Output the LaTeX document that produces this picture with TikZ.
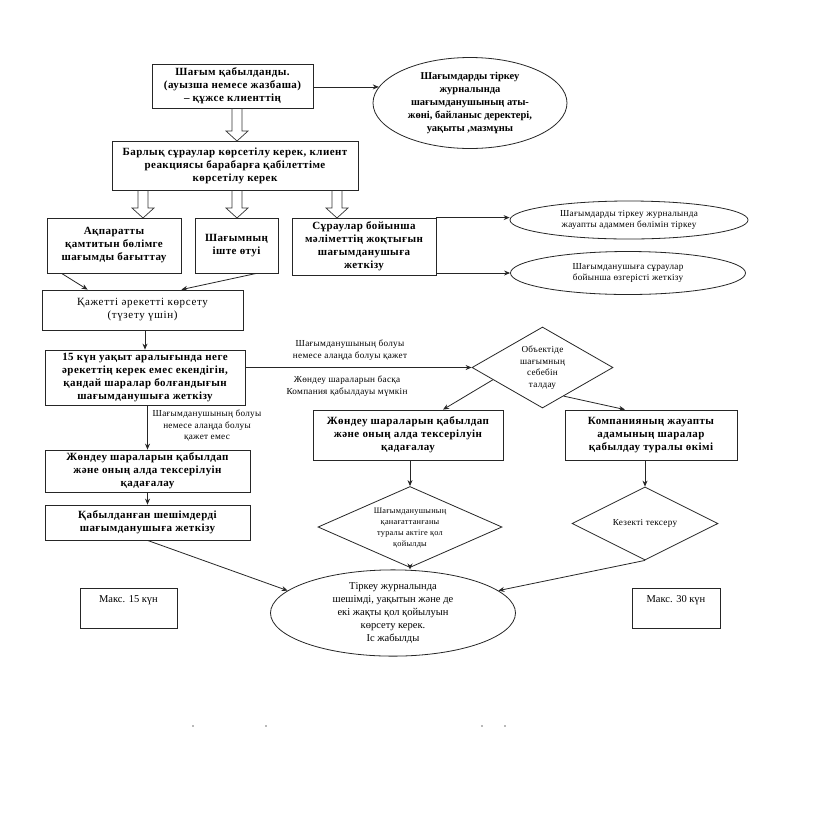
\documentclass[tikz,border=0pt]{standalone}
\usepackage{fontspec}
\setmainfont{Liberation Serif}
\newfontfamily\spacedfont[LetterSpace=4]{Liberation Serif}
\newfontfamily\widefont[LetterSpace=6]{Liberation Serif}
\newfontfamily\smallfont[LetterSpace=3]{Liberation Serif}
\usetikzlibrary{shapes.geometric,arrows.meta,calc}
\tikzset{
  box/.style={draw=black!85, line width=0.8pt, rectangle, inner sep=1pt, align=center},
  oval/.style={draw=black!85, line width=0.8pt, ellipse, inner sep=0pt, align=center},
  rhomb/.style={draw=black!85, line width=0.8pt, diamond, inner sep=0pt, align=center},
  txt/.style={inner sep=0pt, align=center},
  bigb/.style={font=\spacedfont\fontsize{11}{13}\selectfont\bfseries},
  ovalb/.style={font=\fontsize{10.5}{12.8}\selectfont\bfseries},
  bign/.style={font=\fontsize{10.5}{13}\selectfont},
  widen/.style={font=\widefont\fontsize{11}{13}\selectfont},
  smallt/.style={font=\smallfont\fontsize{9.2}{11.5}\selectfont},
  tinyt/.style={font=\smallfont\fontsize{8.3}{11}\selectfont},
  arr/.style={draw=black!85, line width=0.8pt, -{Stealth[length=6pt,width=5pt]}},
  hollow/.style={draw=black!80, line width=0.7pt}
}
\newcommand{\hollowdown}[2]{% top point, tip point
  \draw[hollow] ($(#1)+(-5,0)$) -- ($(#2)+(-5,-10)$) -- ($(#2)+(-11,-10)$) -- (#2) -- ($(#2)+(11,-10)$) -- ($(#2)+(5,-10)$) -- ($(#1)+(5,0)$);
}
\begin{document}
\begin{tikzpicture}[x=1pt,y=-1pt]
\useasboundingbox (0,0) rectangle (828,823);
\fill[white] (0,0) rectangle (828,823);

% top row
\node[box, minimum width=161pt, minimum height=44pt] (b1) at (232.5,86) {};
\node[txt, bigb] (b1t) at (232.5,86) {Шағым қабылданды.\\(ауызша немесе жазбаша)\\– құжсе клиенттің};
\node[oval, ovalb, minimum width=194pt, minimum height=91pt] (e1) at (470,103)
  {Шағымдарды тіркеу\\журналында\\шағымданушының аты-\\жөні, байланыс деректері,\\уақыты ,мазмұны};
\draw[arr] (b1.east |- e1.170) -- (e1.170);

\node[box, bigb, minimum width=246pt, minimum height=49pt] (b2) at (235,165.5)
  {Барлық сұраулар көрсетілу керек, клиент\\реакциясы барабарға қабілеттіме\\көрсетілу керек};

\coordinate (h1a) at (237,108);
\coordinate (h1b) at (237,141);
\hollowdown{h1a}{h1b}

\node[box, bigb, minimum width=134pt, minimum height=55pt] (b4) at (114,245.5)
  {Ақпаратты\\қамтитын бөлімге\\шағымды бағыттау};
\node[box, bigb, minimum width=83pt, minimum height=55pt] (b5) at (236.5,245.5)
  {Шағымның\\іште өтуі};
\node[box, bigb, minimum width=144pt, minimum height=57pt] (b6) at (364,246.5)
  {Сұраулар бойынша\\мәліметтің жоқтығын\\шағымданушыға\\жеткізу};

\coordinate (h2a) at (143,190); \coordinate (h2b) at (143,218);
\coordinate (h3a) at (237,190); \coordinate (h3b) at (237,218);
\coordinate (h4a) at (337,190); \coordinate (h4b) at (337,218);
\hollowdown{h2a}{h2b}
\hollowdown{h3a}{h3b}
\hollowdown{h4a}{h4b}

\node[oval, smallt, minimum width=238pt, minimum height=38pt] (e7) at (629,220)
  {Шағымдарды тіркеу журналында\\жауапты адаммен бөлімін тіркеу};
\node[oval, smallt, minimum width=235pt, minimum height=43pt] (e8) at (628,273)
  {Шағымданушыға сұраулар\\бойынша өзгерісті жеткізу};
\draw[arr] (b6.north east) -- (b6.north east -| e7.west);
\draw[arr] (b6.east |- e8.west) -- (e8.west);

% left column
\node[box, widen, minimum width=201pt, minimum height=40pt] (b9) at (142.5,310)
  {Қажетті әрекетті көрсету\\(түзету үшін)};
\draw[arr] ([xshift=15pt]b4.south west) -- ([xshift=46pt]b9.north west);
\draw[arr] ([xshift=-22pt]b5.south east) -- ([xshift=-62pt]b9.north east);

\node[box, bigb, minimum width=200pt, minimum height=55pt] (b10) at (145,377.5)
  {15 күн уақыт аралығында неге\\әрекеттің керек емес екендігін,\\қандай шаралар болғандығын\\шағымданушыға жеткізу};
\draw[arr] (b10.north |- b9.south) -- (b10.north);

% diamond analysis
\node[rhomb, minimum width=141pt, minimum height=81pt] (d11) at (542.5,367.5) {};
\node[txt, smallt] (d11t) at (d11.center) {Объектіде\\шағымның\\себебін\\талдау};
\draw[arr] (b10.east |- d11.west) -- (d11.west);
\node[txt, smallt] (l1) at (350,350) {Шағымданушының болуы\\немесе алаңда болуы қажет};
\node[txt, smallt] (l2) at (347,386) {Жөндеу шараларын басқа\\Компания қабылдауы мүмкін};

\node[box, bigb, minimum width=190pt, minimum height=50pt] (b12) at (408,435)
  {Жөндеу шараларын қабылдап\\және оның алда тексерілуін\\қадағалау};
\node[box, bigb, minimum width=172pt, minimum height=50pt] (b13) at (651,435)
  {Компанияның жауапты\\адамының шаралар\\қабылдау туралы өкімі};
\draw[arr] ($(d11.west)!0.3!(d11.south)$) -- ([xshift=35pt]b12.north);
\draw[arr] ($(d11.south)!0.3!(d11.east)$) -- ([xshift=-26pt]b13.north);

\node[box, bigb, minimum width=205pt, minimum height=42pt] (b14) at (147.5,471)
  {Жөндеу шараларын қабылдап\\және оның алда тексерілуін\\қадағалау};
\draw[arr] (b14.north |- b10.south) -- (b14.north);
\node[txt, smallt] (l3) at (207,426) {Шағымданушының болуы\\немесе алаңда болуы\\қажет емес};

\node[box, bigb, minimum width=205pt, minimum height=35pt] (b15) at (147.5,522.5)
  {Қабылданған шешімдерді\\шағымданушыға жеткізу};
\draw[arr] (b14.south) -- (b15.north);

\node[rhomb, minimum width=184pt, minimum height=81pt] (d16) at (410,527) {};
\node[txt, tinyt] (d16t) at ([yshift=-1pt]d16.center) {Шағымданушының\\қанағаттанғаны\\туралы актіге қол\\қойылды};
\draw[arr] (d16.north |- b12.south) -- (d16.north);

\node[rhomb, minimum width=146pt, minimum height=73pt] (d17) at (645,523.5) {};
\node[txt, smallt] (d17t) at (d17.center) {Кезекті тексеру};
\draw[arr] (d17.north |- b13.south) -- (d17.north);

\node[oval, bign, minimum width=245pt, minimum height=82pt] (e18) at (393,613)
  {Тіркеу журналында\\шешімді, уақытын және де\\екі жақты қол қойылуын\\көрсету керек.\\Іс жабылды};
\draw[arr] (d16.south) -- (d16.south |- e18.north);
\draw[arr] (d17.south) -- (e18.12);
\draw[arr] (b15.south) -- (e18.168);

\node[box, minimum width=97pt, minimum height=40pt] (b19) at (128.5,608) {};
\node[txt, bign] (b19t) at (128.5,600) {Макс. 15 күн};
\node[box, minimum width=88pt, minimum height=40pt] (b20) at (676,608) {};
\node[txt, bign] (b20t) at (676,600) {Макс. 30 күн};

% specks at the bottom
\foreach \sx in {193,266,482,505} \fill[black!55] (\sx,726) circle (0.9);
\end{tikzpicture}
\end{document}
